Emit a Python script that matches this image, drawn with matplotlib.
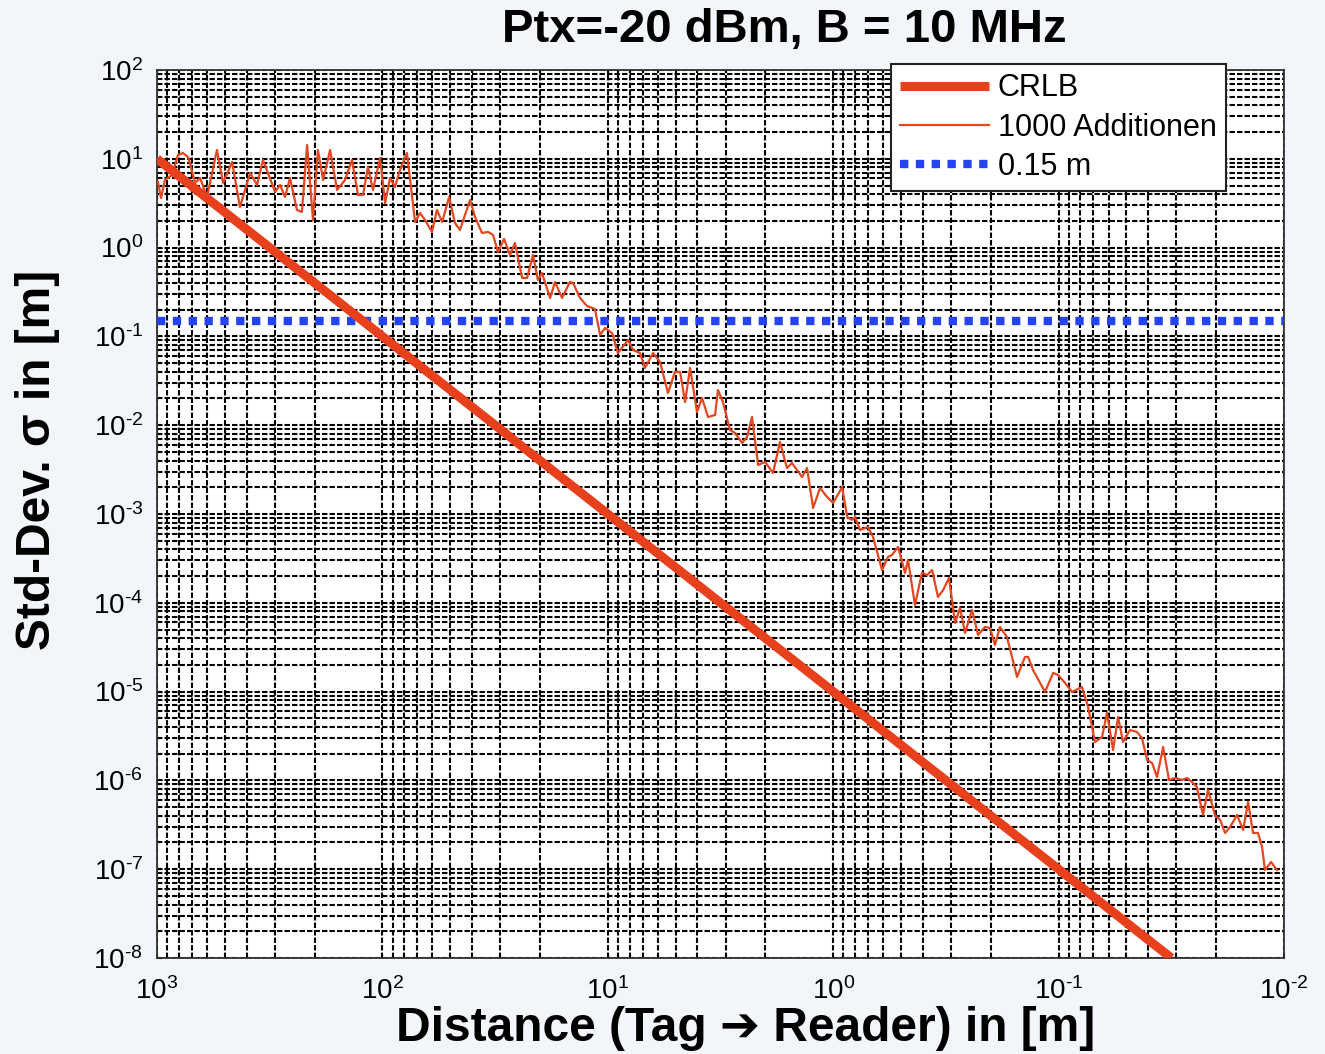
import numpy as np
import matplotlib
matplotlib.use('Agg')
import matplotlib.pyplot as plt
from matplotlib.ticker import LogLocator, NullFormatter, FuncFormatter

plt.rcParams['font.family'] = ['Liberation Sans', 'DejaVu Sans']
plt.rcParams['mathtext.fontset'] = 'custom'
plt.rcParams['mathtext.rm'] = 'Liberation Sans'
plt.rcParams['mathtext.it'] = 'Liberation Sans:italic'
plt.rcParams['mathtext.bf'] = 'Liberation Sans:bold'

# CRLB (straight line on log-log axes)
crlb_dist = [1000, 100, 10, 1, 0.1, 0.0316]
crlb_sigma = [10, 0.1, 1e-3, 1e-5, 1e-7, 1e-8]

# 1000 Additionen as log10 values
add_dist_exp = [
    2.996, 2.982, 2.965, 2.933, 2.907, 2.885, 2.862, 2.831, 2.809, 2.778,
    2.734, 2.707, 2.667, 2.632, 2.587, 2.556, 2.530, 2.476, 2.454, 2.432,
    2.410, 2.379, 2.357, 2.334, 2.308, 2.286, 2.263, 2.232, 2.201, 2.166,
    2.135, 2.108, 2.086, 2.064, 2.042, 2.010, 1.988, 1.966, 1.944, 1.922,
    1.891, 1.855, 1.833, 1.811, 1.780, 1.758, 1.735, 1.704, 1.678, 1.656,
    1.611, 1.589, 1.558, 1.531, 1.509, 1.487, 1.460, 1.434, 1.412, 1.380,
    1.358, 1.332, 1.310, 1.292, 1.256, 1.234, 1.203, 1.168, 1.154, 1.123,
    1.092, 1.057, 1.034, 1.012, 0.981, 0.955, 0.910, 0.888, 0.857, 0.835,
    0.799, 0.768, 0.733, 0.702, 0.679, 0.657, 0.635, 0.604, 0.582, 0.555,
    0.524, 0.511, 0.489, 0.458, 0.435, 0.404, 0.382, 0.360, 0.333, 0.302,
    0.267, 0.236, 0.205, 0.183, 0.138, 0.116, 0.089, 0.058, 0.027, 0.000,
    -0.040, -0.062, -0.084, -0.097, -0.119, -0.155, -0.177, -0.217, -0.243, -0.261,
    -0.288, -0.319, -0.332, -0.363, -0.394, -0.417, -0.439, -0.465, -0.488, -0.514,
    -0.541, -0.563, -0.585, -0.616, -0.643, -0.674, -0.696, -0.718, -0.740, -0.771,
    -0.816, -0.851, -0.865, -0.887, -0.940, -0.976, -0.998, -1.029, -1.060, -1.104,
    -1.131, -1.162, -1.193, -1.215, -1.242, -1.264, -1.286, -1.317, -1.348, -1.370,
    -1.393, -1.415, -1.437, -1.464, -1.490, -1.517, -1.548, -1.570, -1.592, -1.614,
    -1.641, -1.663, -1.694, -1.717, -1.739, -1.761, -1.792, -1.819, -1.841, -1.863,
    -1.885, -1.903, -1.916, -1.943, -1.969,
]
add_sigma_exp = [
    0.739, 0.559, 0.761, 0.818, 1.043, 1.065, 1.020, 0.728, 0.784, 0.570,
    1.099, 0.728, 0.964, 0.457, 0.840, 0.705, 0.987, 0.626, 0.705, 0.570,
    0.784, 0.423, 0.401, 1.155, 0.311, 1.099, 0.761, 1.099, 0.649, 0.761,
    0.987, 0.592, 0.592, 0.908, 0.649, 1.009, 0.502, 0.784, 0.682, 0.874,
    1.065, 0.288, 0.390, 0.311, 0.176, 0.423, 0.288, 0.570, 0.277, 0.198,
    0.536, 0.345, 0.164, 0.176, 0.142, -0.050, 0.097, -0.083, 0.052, -0.342,
    -0.342, -0.083, -0.365, -0.286, -0.567, -0.387, -0.567, -0.387, -0.399, -0.567,
    -0.658, -0.691, -0.984, -0.905, -0.962, -1.187, -1.040, -1.153, -1.187, -1.356,
    -1.187, -1.288, -1.637, -1.401, -1.401, -1.739, -1.356, -1.851, -1.694, -1.908,
    -1.885, -1.604, -1.739, -2.054, -2.088, -2.200, -2.133, -1.908, -2.448, -2.414,
    -2.538, -2.189, -2.482, -2.426, -2.583, -2.482, -2.932, -2.707, -2.808, -2.876,
    -2.696, -3.034, -3.067, -3.034, -3.180, -3.146, -3.259, -3.631, -3.484, -3.462,
    -3.371, -3.664, -3.518, -4.025, -3.664, -3.687, -3.631, -3.934, -3.856, -3.721,
    -4.227, -4.058, -4.340, -4.081, -4.362, -4.272, -4.284, -4.475, -4.272, -4.385,
    -4.835, -4.610, -4.610, -4.757, -5.004, -4.790, -4.813, -4.903, -5.004, -4.948,
    -5.173, -5.567, -5.511, -5.241, -5.657, -5.286, -5.567, -5.432, -5.455, -5.522,
    -5.770, -5.804, -5.962, -5.624, -5.995, -5.973, -5.995, -5.973, -6.018, -6.074,
    -6.389, -6.108, -6.389, -6.446, -6.592, -6.525, -6.389, -6.558, -6.243, -6.592,
    -6.592, -6.750, -7.009, -6.919, -7.009,
]

thresh = 0.15
x_range = [1e3, 1e-2]

add_dist = 10.0 ** np.array(add_dist_exp)
add_sigma = 10.0 ** np.array(add_sigma_exp)


def pow10(v, pos):
    e = int(round(np.log10(v)))
    return r'$10^{\mathregular{%s}}$' % ('\u2010%d' % -e if e < 0 else '%d' % e)


fig = plt.figure(figsize=(13.25, 10.54), dpi=100, facecolor='#f2f5f9')
ax = fig.add_axes([0.1185, 0.0911, 0.8505, 0.8425])
ax.set_facecolor('white')

ax.plot(crlb_dist, crlb_sigma, color='#e8401c', lw=6.5, label='CRLB',
        solid_capstyle='butt', zorder=4)
ax.plot(add_dist, add_sigma, color='#e2471f', lw=1.6, label='1000 Additionen', zorder=3)
ax.plot(x_range, [thresh, thresh], color='#2344f0', lw=6, linestyle=(0, (1, 0.9)),
        dash_capstyle='butt', label='0.15 m', zorder=3)

ax.set_xscale('log')
ax.set_yscale('log')
ax.set_xlim(1e3, 1e-2)
ax.set_ylim(1e-8, 1e2)

ax.xaxis.set_major_locator(LogLocator(base=10, numticks=20))
ax.yaxis.set_major_locator(LogLocator(base=10, numticks=20))
ax.xaxis.set_minor_locator(LogLocator(base=10, subs=np.arange(2, 10), numticks=20))
ax.yaxis.set_minor_locator(LogLocator(base=10, subs=np.arange(2, 10), numticks=20))
ax.xaxis.set_major_formatter(FuncFormatter(pow10))
ax.yaxis.set_major_formatter(FuncFormatter(pow10))
ax.xaxis.set_minor_formatter(NullFormatter())
ax.yaxis.set_minor_formatter(NullFormatter())

ax.grid(True, which='both', color='black', lw=1.5, linestyle=(0, (2.6, 1.0)))
ax.tick_params(which='both', direction='in', labelsize=20, color='black')
ax.tick_params(axis='x', pad=14)
ax.tick_params(axis='y', pad=10)
for s in ax.spines.values():
    s.set_color('#333333')
    s.set_linewidth(1.3)

ax.set_xlabel('Distance (Tag \u2794 Reader) in [m]', fontsize=34.5, fontweight='bold')
ax.xaxis.set_label_coords(0.522, -0.0545)
ax.xaxis.label.set_va('top')
ax.set_ylabel('Std-Dev. \u03c3 in [m]', fontsize=34.5, fontweight='bold')
ax.yaxis.set_label_coords(-0.086, 0.561)

fig.text(0.592, 0.972, 'Ptx=-20 dBm, B = 10 MHz', fontsize=34, fontweight='bold',
         ha='center', va='center')

leg = ax.legend(loc='upper right', bbox_to_anchor=(0.9485, 1.0065), borderaxespad=0,
                fontsize=22, handlelength=2.9, handletextpad=0.3, labelspacing=0.3,
                borderpad=0.3, fancybox=False, framealpha=1, edgecolor='#222222')
leg.get_frame().set_linewidth(1.5)

fig.savefig('out.png', dpi=100, facecolor=fig.get_facecolor())
